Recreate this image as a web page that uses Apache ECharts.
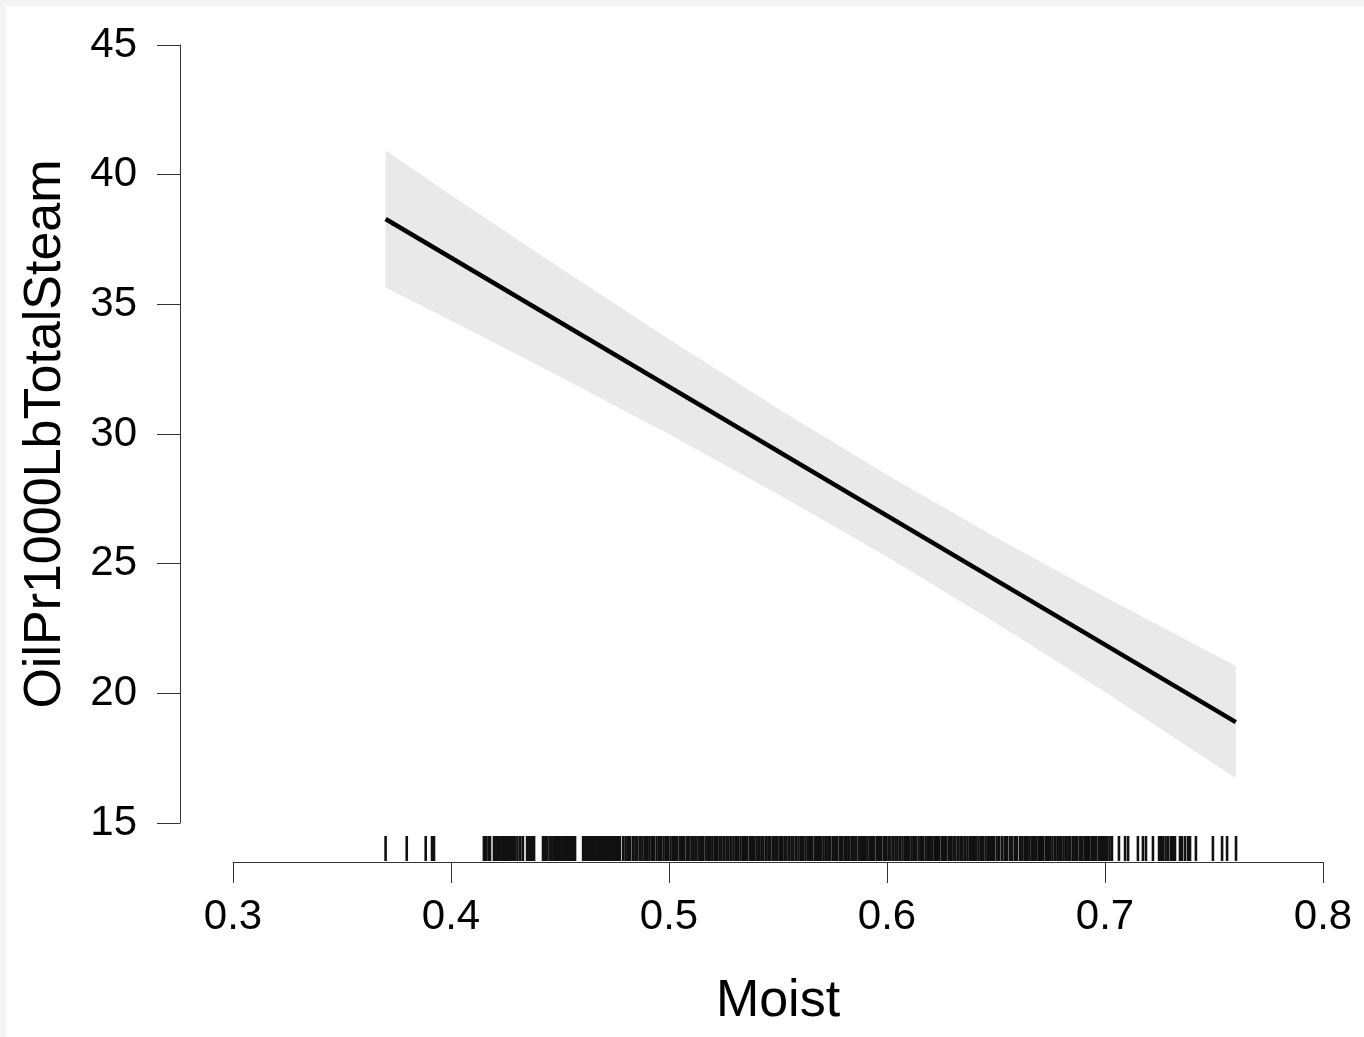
<!DOCTYPE html>
<html>
<head>
<meta charset="utf-8">
<script src="https://cdn.jsdelivr.net/npm/echarts@6/dist/echarts.min.js"></script>
<style>
html,body{margin:0;padding:0;background:#f4f4f4;width:1364px;height:1037px;overflow:hidden;}
#c{position:absolute;left:6px;top:6px;width:1358px;height:1031px;background:#fff;}
</style>
</head>
<body>
<div id="c"></div>
<script>
// ---- data ----
var xTicks = [0.3, 0.4, 0.5, 0.6, 0.7, 0.8];
var yTicks = [15, 20, 25, 30, 35, 40, 45];
var fitX = [0.37, 0.76];
var fitY = [38.29, 18.89];
var bandX = [0.37, 0.40, 0.45, 0.50, 0.55, 0.60, 0.65, 0.70, 0.76];
var bandUpper = [40.93, 39.22, 36.41, 33.65, 30.98, 28.43, 26.01, 23.71, 21.05];
var bandLower = [35.65, 34.38, 32.21, 29.99, 27.68, 25.27, 22.71, 20.05, 16.73];
var rugLeft = [0.3700, 0.3797, 0.3884, 0.3913, 0.3922];
var rugA = [0.4151,0.4160,0.4172,0.4179,
  0.4197,0.4206,0.4215,0.4222,0.4231,0.4240,0.4247,0.4255,0.4263,0.4270,0.4277,0.4284,
  0.4294,0.4305,0.4318,0.4330,
  0.4349,0.4358,0.4366,0.4373,0.4381,
  0.4422,0.4431,0.4440,0.4452,0.4461,0.4470,0.4477,
  0.4486,0.4495,0.4503,0.4514,0.4522,0.4531,0.4540,0.4548,0.4556,0.4563,0.4569,
  0.4606,0.4614,0.4622,0.4630,0.4637,0.4646,0.4655,0.4662,0.4671,0.4680,0.4688,0.4697,
  0.4705,0.4714,0.4722,0.4731,0.4740,0.4748,0.4757,0.4766,0.4775];
var rugB = [0.4790,0.4801,0.4812,0.4822,0.4835,0.4846,0.4855,0.4867,0.4878,0.4889,0.4898,
  0.4910,0.4921,0.4930,0.4943,0.4954,0.4963,0.4975,0.4986,0.4995,
  0.5007,0.5018,0.5029,0.5038,0.5050,0.5061,0.5070,0.5082,0.5093,
  0.5104,0.5113,0.5125,0.5136,0.5147,0.5156,0.5168,0.5179,0.5188,0.5199,
  0.5210,0.5221,0.5232,0.5241,0.5253,0.5264,0.5273,0.5285,0.5296,
  0.5307,0.5316,0.5328,0.5339,0.5348,0.5359,0.5371,0.5382,0.5391,
  0.5402,0.5413,0.5424,0.5433,0.5445,0.5456,0.5465,0.5477,0.5488,0.5497,
  0.5508,0.5519,0.5530,0.5539,0.5551,0.5562,0.5571,0.5583,0.5594,
  0.5605,0.5614,0.5626,0.5637,0.5646,0.5657,0.5669,0.5680,0.5689,0.5698,
  0.5709,0.5720,0.5731,0.5740,0.5752,0.5763,0.5772,0.5784,0.5795];
var rugC = [0.5806,0.5815,0.5827,0.5838,0.5847,0.5858,0.5870,0.5881,0.5890,0.5899,
  0.5910,0.5921,0.5932,0.5941,0.5953,0.5964,0.5973,0.5985,0.5996,
  0.6007,0.6016,0.6028,0.6039,0.6048,0.6059,0.6071,0.6082,0.6091,
  0.6102,0.6113,0.6124,0.6133,0.6145,0.6156,0.6165,0.6177,0.6188,0.6197,
  0.6208,0.6219,0.6230,0.6239,0.6251,0.6262,0.6271,0.6283,0.6294,
  0.6305,0.6314,0.6326,0.6337,0.6346,0.6357,0.6369,0.6380,0.6389,0.6398,
  0.6409,0.6420,0.6431,0.6440,0.6452,0.6463,0.6472,
  0.6482,0.6490,0.6503,0.6515,0.6528,0.6540,0.6551,
  0.6564,0.6575,0.6588,0.6596,
  0.6610,0.6621,0.6632,0.6641,0.6653,0.6664,0.6673,0.6685,0.6696,
  0.6707,0.6716,0.6728,0.6739,0.6748,0.6759,0.6771,0.6782,0.6791,0.6799,
  0.6810,0.6821,0.6832,0.6841,0.6853,0.6864,0.6873,0.6885,0.6896,
  0.6907,0.6916,0.6928,0.6939,0.6948,0.6959,0.6971,0.6982,0.6991,0.7000,
  0.7010,0.7021,0.7032];
var rugRight = [0.7064,0.7092,0.7106,0.7151,0.7174,0.7188,0.7220,
  0.7248,0.7257,0.7266,0.7278,0.7290,0.7303,0.7312,0.7321,
  0.7344,0.7353,0.7367,0.7381,0.7390,0.7417,0.7495,0.7537,0.7560,0.7601];
var xTitle = 'Moist';
var yTitle = 'OilPr1000LbTotalSteam';

// ---- build ----
var FONT = '"Liberation Sans", Arial, Helvetica, sans-serif';
var rugAll = [].concat(rugLeft, rugA, rugB, rugC, rugRight).map(function (v) { return [v]; });
var fitData = fitX.map(function (x, i) { return [x, fitY[i]]; });
var bandData = bandX.map(function (x, i) { return [x, bandLower[i], bandUpper[i]]; });

var chart = echarts.init(document.getElementById('c'), null, {renderer: 'canvas'});
chart.setOption({
  animation: false,
  backgroundColor: '#ffffff',
  grid: {left: 227, right: 41, top: 39, bottom: 214, containLabel: false},
  xAxis: {
    type: 'value', min: 0.3, max: 0.8, interval: 0.1,
    position: 'bottom', offset: 39,
    name: xTitle, nameLocation: 'middle', nameGap: 114,
    nameTextStyle: {fontFamily: FONT, fontSize: 52, color: '#000'},
    axisLine: {show: true, onZero: false, lineStyle: {color: '#333', width: 1}},
    axisTick: {show: true, length: 21, inside: false, lineStyle: {color: '#333', width: 1}},
    axisLabel: {fontFamily: FONT, fontSize: 42, color: '#000', margin: 34,
      formatter: function (v) { return v.toFixed(1); }},
    splitLine: {show: false}
  },
  yAxis: {
    type: 'value', min: 15, max: 45, interval: 5,
    position: 'left', offset: 53,
    name: yTitle, nameLocation: 'middle', nameGap: 108, nameRotate: 90,
    nameTextStyle: {fontFamily: FONT, fontSize: 52, color: '#000'},
    axisLine: {show: true, onZero: false, lineStyle: {color: '#333', width: 1}},
    axisTick: {show: true, length: 23, inside: false, lineStyle: {color: '#333', width: 1}},
    axisLabel: {fontFamily: FONT, fontSize: 42, color: '#000', margin: 43},
    splitLine: {show: false}
  },
  series: [
    {
      type: 'custom', name: 'band', data: bandData, clip: false, silent: true, z: 1,
      renderItem: function (params, api) {
        if (params.dataIndex !== 0) return null;
        var pts = [];
        for (var i = 0; i < bandData.length; i++) pts.push(api.coord([bandData[i][0], bandData[i][2]]));
        for (var j = bandData.length - 1; j >= 0; j--) pts.push(api.coord([bandData[j][0], bandData[j][1]]));
        return {type: 'polygon', shape: {points: pts}, style: {fill: '#e9e9e9', stroke: null}};
      }
    },
    {
      type: 'line', name: 'fit', data: fitData, showSymbol: false, symbol: 'none', z: 3,
      lineStyle: {color: '#000', width: 4.5}
    },
    {
      type: 'custom', name: 'rug', data: rugAll, clip: false, silent: true, z: 2,
      renderItem: function (params, api) {
        var p = api.coord([api.value(0), 15]);
        return {type: 'line', shape: {x1: p[0], y1: p[1] + 13, x2: p[0], y2: p[1] + 38},
          style: {stroke: '#111', lineWidth: 2.6}};
      }
    }
  ]
});
</script>
</body>
</html>
